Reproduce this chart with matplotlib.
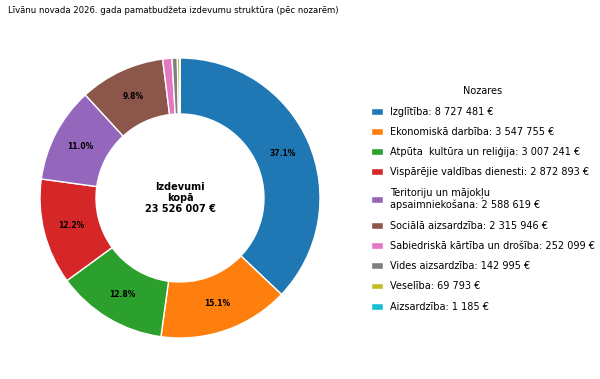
import matplotlib
matplotlib.use("Agg")
import matplotlib.pyplot as plt

# budget data (EUR), by sector
sectors = [
    "Izglītība",
    "Ekonomiskā darbība",
    "Atpūta  kultūra un reliģija",
    "Vispārējie valdības dienesti",
    "Teritoriju un mājokļu\napsaimniekošana",
    "Sociālā aizsardzība",
    "Sabiedriskā kārtība un drošība",
    "Vides aizsardzība",
    "Veselība",
    "Aizsardzība",
]
amounts = [8727481, 3547755, 3007241, 2872893, 2588619, 2315946, 252099, 142995, 69793, 1185]
colors = ["#1f77b4", "#ff7f0e", "#2ca02c", "#d62728", "#9467bd",
          "#8c564b", "#e377c2", "#7f7f7f", "#bcbd22", "#17becf"]

total = sum(amounts)


def fmt_eur(v):
    return f"{v:,}".replace(",", " ") + " €"


legend_labels = [f"{s}: {fmt_eur(a)}" for s, a in zip(sectors, amounts)]

fig = plt.figure(figsize=(6, 3.79), dpi=100)
ax = fig.add_axes([40 / 600, 1 - 338 / 379, 280 / 600, 280 / 379])

wedges, texts, autotexts = ax.pie(
    amounts,
    colors=colors,
    startangle=90,
    counterclock=False,
    autopct=lambda p: f"{p:.1f}%" if p >= 3 else "",
    pctdistance=0.8,
    wedgeprops=dict(width=0.4, edgecolor="white", linewidth=1),
    textprops=dict(fontsize=5.5, fontweight="bold"),
)
ax.set_xlim(-1.0, 1.0)
ax.set_ylim(-1.0, 1.0)
ax.set_aspect("equal")

ax.text(0, 0, "Izdevumi\nkopā\n" + fmt_eur(total), ha="center", va="center",
        fontsize=7, fontweight="bold", linespacing=1.1)

fig.text(0.013, 0.985, "Līvānu novada 2026. gada pamatbudžeta izdevumu struktūra (pēc nozarēm)",
         ha="left", va="top", fontsize=6.1)

leg = fig.legend(wedges, legend_labels, title="Nozares", loc="center left",
                 bbox_to_anchor=(0.603, 0.475), frameon=False, fontsize=7,
                 title_fontsize=7, labelspacing=1.05, handlelength=1.25,
                 handleheight=0.7, handletextpad=0.72)

fig.savefig("out.png", dpi=100)
